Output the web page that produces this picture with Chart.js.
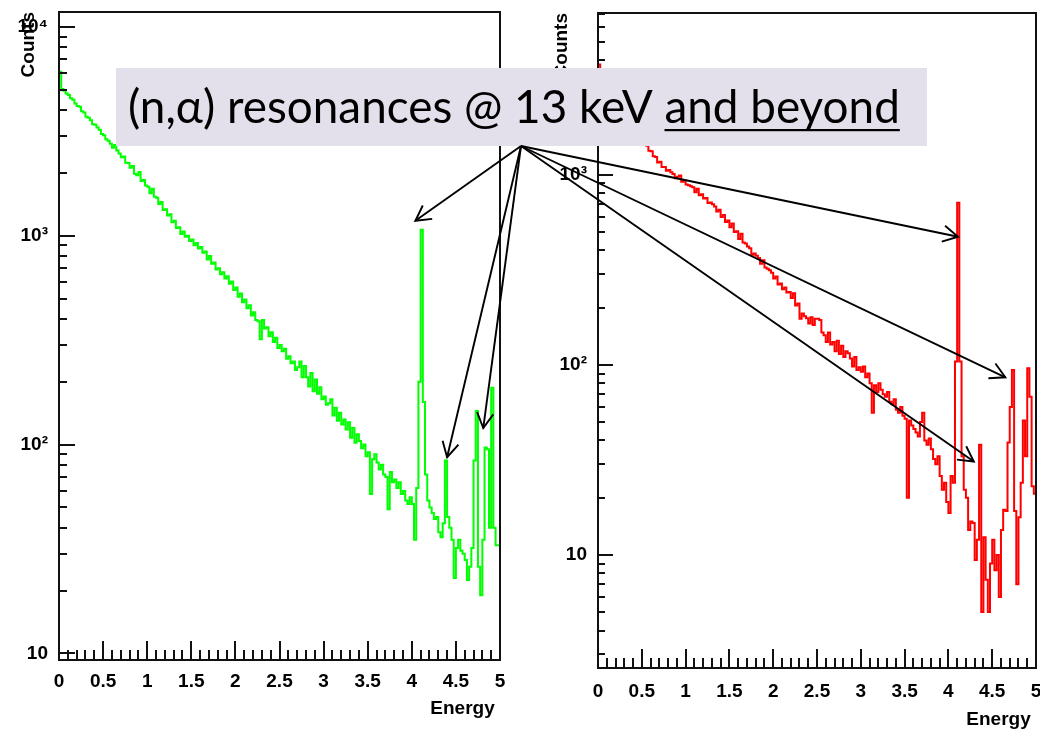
<!DOCTYPE html>
<html>
<head>
<meta charset="utf-8">
<script src="https://cdn.jsdelivr.net/npm/chart.js@4.4.0/dist/chart.umd.min.js"></script>
<style>
  html, body { margin: 0; padding: 0; background: #fff; }
  #wrap { position: relative; width: 1040px; height: 731px; overflow: hidden; }
  canvas { position: absolute; top: 0; }
  #leftChart { left: 0; width: 520px; height: 731px; }
  #rightChart { left: 540px; width: 500px; height: 731px; }
  #overlay { left: 0; width: 1040px; height: 731px; pointer-events: none; }
</style>
</head>
<body>
<div id="wrap">
  <canvas id="leftChart" width="520" height="731"></canvas>
  <canvas id="rightChart" width="500" height="731"></canvas>
  <canvas id="overlay" width="1040" height="731"></canvas>
</div>
<script>
"use strict";

// histogram binning (energy, 0..5 in 0.025 steps)
const BIN_WIDTH = 0.025;
const ENERGY_MAX = 5;
const xTickValues = [0, 0.5, 1, 1.5, 2, 2.5, 3, 3.5, 4, 4.5, 5];

// left panel (green) counts per bin
const greenCounts = [
  6100, 5050, 4950, 4800, 4720, 4560, 4480, 4300,
  4180, 4150, 3950, 3900, 3720, 3680, 3580, 3420,
  3400, 3300, 3220, 3070, 3030, 2900, 2850, 2760,
  2640, 2720, 2560, 2480, 2380, 2400, 2240, 2230,
  2120, 2160, 1980, 1950, 2020, 1830, 1850, 1740,
  1720, 1600, 1680, 1540, 1520, 1420, 1450, 1330,
  1340, 1250, 1270, 1160, 1180, 1090, 1100, 1020,
  1050, 990, 1000, 945, 960, 900, 925, 870,
  885, 830, 840, 770, 800, 735, 745, 690,
  700, 655, 670, 625, 640, 590, 605, 550,
  565, 510, 530, 480, 495, 450, 465, 415,
  430, 395, 390, 320, 395, 360, 365, 330,
  345, 310, 325, 290, 300, 280, 288, 258,
  265, 245, 250, 228, 235, 250, 210, 238,
  210, 190, 220, 180, 205, 175, 188, 165,
  170, 155, 158, 165, 138, 150, 130, 142,
  125, 132, 118, 128, 108, 120, 102, 112,
  104, 96, 100, 88, 92, 58, 85, 90,
  82, 76, 80, 72, 70, 49, 74, 66,
  68, 62, 66, 58, 60, 54, 52, 56,
  52, 35, 62, 200, 1070, 160, 72, 54,
  50, 47, 44, 45, 38, 36, 42, 84,
  45, 40, 35, 23, 32, 35, 31, 30,
  28, 22.5, 26, 32, 84, 145, 26, 19,
  35, 97, 95, 40, 187, 40, 33, 33
];

// right panel (red) counts per bin
const redCounts = [
  3800, 3300, 3150, 3000, 2880, 2720, 2650, 2480,
  2470, 2300, 2260, 2120, 2090, 1950, 1930, 1800,
  1790, 1680, 1650, 1550, 1520, 1440, 1420, 1340,
  1330, 1250, 1240, 1160, 1170, 1100, 1100, 1050,
  1060, 1030, 1010, 960, 975, 990, 920, 935,
  890, 880, 870, 860, 810, 845, 780, 790,
  750, 755, 710, 715, 700, 680, 640, 655,
  600, 615, 565, 575, 530, 555, 500, 505,
  460, 490, 440, 435, 420, 410, 380, 385,
  375, 365, 340, 355, 325, 320, 315, 305,
  285, 292, 265, 268, 250, 255, 240, 242,
  225, 238, 205, 210, 175, 186, 180, 176,
  165, 178, 162, 175, 175, 172, 148, 143,
  132, 148, 128, 132, 118, 134, 114, 126,
  110, 118, 115, 108, 98, 110, 94, 97,
  92, 98, 86, 90, 80, 56, 78, 72,
  80, 74, 70, 68, 72, 64, 62, 66,
  58, 56, 60, 54, 52, 20, 51, 48,
  46, 44, 42, 50, 56, 40, 38, 41,
  36, 32, 30, 33, 26, 22, 24, 19,
  16.6, 26, 24, 104, 713, 104, 33, 22,
  20, 13.5, 15, 14.7, 9.4, 12, 38, 5,
  12.4, 7.4, 5, 9, 12, 8.3, 10, 6,
  13.5, 17.3, 17, 39, 60, 94, 17, 7,
  15.8, 24, 51, 33, 96, 68, 23, 21
];

const yTickValues = [10, 100, 1000, 10000];
const yTickLabels = ['10', '10²', '10³', '10⁴'];

// annotation
const noteText = '(n,α) resonances @ 13 keV ';
const noteUnderlined = 'and beyond';
// arrow tips in data coords [energy, counts]
const leftArrowTips = [[4.04, 1180], [4.40, 87], [4.81, 120]];
const rightArrowTips = [[4.11, 472], [4.65, 86], [4.29, 31]];

const AXIS_FONT = { family: "'Liberation Sans', Arial, sans-serif", size: 19, weight: 'bold' };

const toSteps = (counts) => counts
  .map((c, i) => ({ x: i * BIN_WIDTH, y: c }))
  .concat([{ x: ENERGY_MAX, y: counts[counts.length - 1] }]);

// ROOT-like frame with inward ticks
const rootFrame = {
  id: 'rootFrame',
  afterDatasetsDraw(chart, args, opts) {
    const { ctx, chartArea: a, scales: { x, y } } = chart;
    ctx.save();
    ctx.strokeStyle = '#111';
    ctx.lineWidth = 2;
    for (let k = 0; k <= 50; k++) {
      const px = Math.round(x.getPixelForValue(k / 10));
      const len = k % 5 === 0 ? opts.xMajor : opts.xMinor;
      ctx.beginPath();
      ctx.moveTo(px, a.bottom);
      ctx.lineTo(px, a.bottom - len);
      ctx.stroke();
    }
    for (let d = Math.floor(Math.log10(y.min)); d <= Math.ceil(Math.log10(y.max)); d++) {
      for (let m = 1; m <= 9; m++) {
        const v = m * Math.pow(10, d);
        if (v < y.min || v > y.max) continue;
        const py = Math.round(y.getPixelForValue(v));
        const len = m === 1 ? opts.yMajor : opts.yMinor;
        ctx.beginPath();
        ctx.moveTo(a.left, py);
        ctx.lineTo(a.left + len, py);
        ctx.stroke();
      }
    }
    ctx.strokeRect(a.left, a.top, a.right - a.left, a.bottom - a.top);
    ctx.restore();
  }
};

const makeChart = (canvasId, counts, color, cfg) => new Chart(document.getElementById(canvasId), {
  type: 'line',
  data: {
    datasets: [{
      data: toSteps(counts),
      borderColor: color,
      borderWidth: 2,
      pointRadius: 0,
      stepped: true,
      fill: false
    }]
  },
  options: {
    responsive: false,
    animation: false,
    devicePixelRatio: 1,
    layout: { padding: cfg.padding },
    plugins: {
      legend: { display: false },
      tooltip: { enabled: false },
      rootFrame: cfg.ticks
    },
    scales: {
      x: {
        type: 'linear', min: 0, max: ENERGY_MAX,
        afterBuildTicks: s => { s.ticks = xTickValues.map(v => ({ value: v })); },
        ticks: { font: AXIS_FONT, color: '#000', padding: cfg.xLabelPad, maxRotation: 0, autoSkip: false, callback: v => String(v) },
        grid: { display: false, drawTicks: false },
        border: { display: false },
        // trailing space pulls the title in a little from the frame edge
        title: { display: true, text: 'Energy ', align: 'end', color: '#000', font: AXIS_FONT, padding: { top: 0, bottom: cfg.xTitlePad } },
        afterFit: s => { s.height = cfg.xHeight; s.paddingLeft = 0; s.paddingRight = 0; }
      },
      y: {
        type: 'logarithmic', min: cfg.yMin, max: cfg.yMax,
        afterBuildTicks: s => { s.ticks = yTickValues.filter(v => v >= cfg.yMin && v <= cfg.yMax).map(v => ({ value: v })); },
        ticks: { font: AXIS_FONT, color: '#000', padding: 11, autoSkip: false, callback: v => yTickLabels[yTickValues.indexOf(v)] },
        grid: { display: false, drawTicks: false },
        border: { display: false },
        title: { display: true, text: 'Counts', align: 'end', color: '#000', font: AXIS_FONT, padding: { top: cfg.yTitlePad, bottom: 0 } },
        afterFit: s => { s.width = cfg.yWidth; s.paddingTop = 0; s.paddingBottom = 0; }
      }
    }
  },
  plugins: [rootFrame]
});

const leftChart = makeChart('leftChart', greenCounts, '#00ff00', {
  padding: { top: 12, right: 20, bottom: 0, left: 0 },
  yMin: 9.3, yMax: 11800, yWidth: 59, xHeight: 71,
  xLabelPad: 10, xTitlePad: 11, yTitlePad: 17,
  ticks: { xMajor: 19, xMinor: 10, yMajor: 16, yMinor: 8 }
});

const rightChart = makeChart('rightChart', redCounts, '#ff0000', {
  padding: { top: 13, right: 4, bottom: 0, left: 0 },
  yMin: 2.54, yMax: 7100, yWidth: 58, xHeight: 63,
  xLabelPad: 12, xTitlePad: 0, yTitlePad: 10,
  ticks: { xMajor: 19, xMinor: 10, yMajor: 15, yMinor: 7 }
});

const drawArrow = (ctx, x0, y0, x1, y1) => {
  ctx.beginPath();
  ctx.moveTo(x0, y0);
  ctx.lineTo(x1, y1);
  ctx.stroke();
  const ang = Math.atan2(y1 - y0, x1 - x0);
  const L = 17, spread = 0.5;
  ctx.beginPath();
  ctx.moveTo(x1 - L * Math.cos(ang - spread), y1 - L * Math.sin(ang - spread));
  ctx.lineTo(x1, y1);
  ctx.lineTo(x1 - L * Math.cos(ang + spread), y1 - L * Math.sin(ang + spread));
  ctx.stroke();
};

const drawOverlay = () => {
  const ctx = document.getElementById('overlay').getContext('2d');
  const box = { x: 116, y: 68, w: 811, h: 78 };
  ctx.clearRect(0, 0, 1040, 731);
  ctx.fillStyle = '#e3dfeb';
  ctx.fillRect(box.x, box.y, box.w, box.h);

  // fit the note text to the box
  let size = 44;
  ctx.font = `${size}px Lato, 'Open Sans', sans-serif`;
  const fullW = ctx.measureText(noteText + noteUnderlined).width;
  size = size * 772 / fullW;
  ctx.font = `${size}px Lato, 'Open Sans', sans-serif`;
  ctx.fillStyle = '#000';
  ctx.textBaseline = 'alphabetic';
  const tx = box.x + 12, ty = 123;
  ctx.fillText(noteText, tx, ty);
  const ux = tx + ctx.measureText(noteText).width;
  const uw = ctx.measureText(noteUnderlined).width;
  ctx.fillText(noteUnderlined, ux, ty);
  ctx.fillRect(ux, 129, uw, 2.2);

  // arrows from under the box to the peaks
  const origin = { x: 521, y: box.y + box.h };
  ctx.strokeStyle = '#000';
  ctx.lineWidth = 1.9;
  const panels = [[leftChart, 0, leftArrowTips], [rightChart, 540, rightArrowTips]];
  panels.forEach(([chart, offsetX, tips]) => {
    tips.forEach(([e, c]) => {
      const px = offsetX + chart.scales.x.getPixelForValue(e);
      const py = chart.scales.y.getPixelForValue(c);
      drawArrow(ctx, origin.x, origin.y, px, py);
    });
  });
};

drawOverlay();
</script>
</body>
</html>
